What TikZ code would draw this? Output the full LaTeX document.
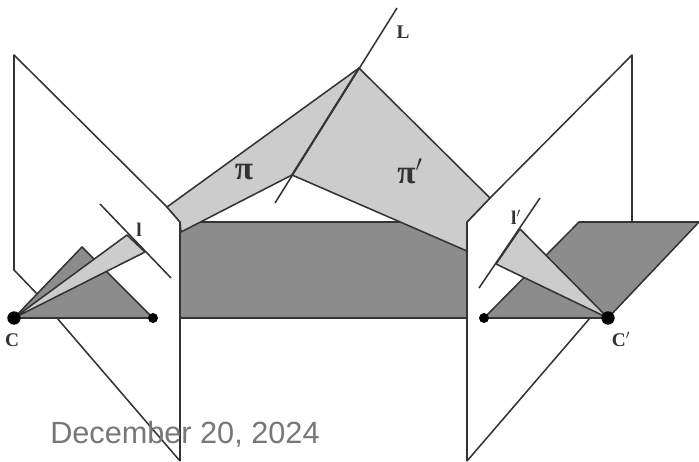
\documentclass[tikz,border=0pt]{standalone}
\usepackage{fontspec}
\usepackage{xcolor}
\usepackage{tikz}
\setmainfont{Liberation Serif}
\newfontfamily\datefont{Liberation Sans}
\definecolor{darkface}{HTML}{8C8C8C}
\definecolor{lightface}{HTML}{CCCCCC}
\definecolor{edge}{HTML}{333333}
\definecolor{dategray}{HTML}{777777}
\begin{document}
\begin{tikzpicture}[x=0.75pt,y=-0.75pt,every node/.style={inner sep=0pt},line/.style={draw=edge,line width=1.15pt,line join=round},dark/.style={line,fill=darkface},light/.style={line,fill=lightface},camera/.style={circle,fill=black,inner sep=0pt},label/.style={font=\bfseries\fontsize{14.5}{14.5}\selectfont,text=edge},greek/.style={font=\bfseries\fontsize{25}{25}\selectfont,text=edge}]
\useasboundingbox (0,0) rectangle (699,461);
% centres and line ends
\coordinate (C) at (14,318);
\coordinate (e) at (153,318);
\coordinate (ep) at (484,318);
\coordinate (Cp) at (608,318);
\coordinate (Lt) at (397,8);
\coordinate (Lb) at (275,203);
\coordinate (top) at (359,68);
\coordinate (mid) at (292,175);
% band, then image planes
\fill[darkface] (180,222) rectangle (467,318);
\draw[line] (180,222) -- (467,222);
\draw[line] (180,318) -- (467,318);
\draw[line] (180,461) -- (57,318);
\draw[line] (40,297) -- (14,270) -- (14,55) -- (167,207) -- (180,222) -- (180,461);
\draw[line] (467,461) -- (590,318);
\draw[line] (632,222) -- (632,55) -- (490,198) -- (467,222) -- (467,461);
% image triangles
\draw[dark] (C) -- (82,247) -- (e) -- cycle;
\draw[dark] (ep) -- (579,222) -- (699,222) -- (Cp) -- cycle;
% planes through L
\draw[light] (167,207) -- (top) -- (mid) -- (181,232) -- (180,222) -- cycle;
\draw[light] (top) -- (490,198) -- (467,222) -- (467,251) -- (mid) -- cycle;
\draw[line] (Lt) -- (Lb);
% rays and image lines
\draw[light] (C) -- (127,235) -- (145,252) -- cycle;
\draw[light] (Cp) -- (520,229) -- (496,264) -- cycle;
\draw[line] (100,204) -- (171,278);
\draw[line] (540,198) -- (479,288);
\node[camera,minimum size=10pt] (dotC) at (C) {};
\node[camera,minimum size=10pt] (dotCp) at (Cp) {};
\node[camera,minimum size=7.5pt] (dote) at (e) {};
\node[camera,minimum size=7.5pt] (dotep) at (ep) {};
% labels
\node[label] (lC) at (12,340) {C};
\node[label] (lCp) at (621,339) {C$'$};
\node[label] (ll) at (139,230) {l};
\node[label] (llp) at (516,217) {l$'$};
\node[label] (lL) at (403,32) {L};
\node[greek] (lpi) at (244,172) {π};
\node[greek] (lpip) at (410,171) {π$'$};
\node[anchor=base west,font=\datefont\fontsize{23}{23}\selectfont,text=dategray] (date) at (50,443) {December 20, 2024};
\end{tikzpicture}
\end{document}
